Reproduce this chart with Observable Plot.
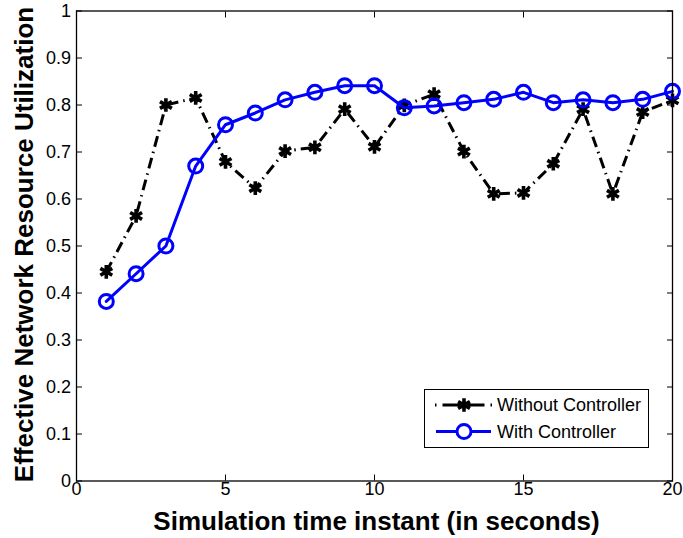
<!DOCTYPE html>
<html>
<head>
<meta charset="utf-8">
<script src="https://cdn.jsdelivr.net/npm/d3@7"></script>
<script src="https://cdn.jsdelivr.net/npm/@observablehq/plot@0.6"></script>
<style>
  html, body { margin: 0; padding: 0; background: #fff; }
  #chart { position: relative; width: 683px; height: 538px; }
</style>
</head>
<body>
<div id="chart"></div>
<script>
const time = [1, 2, 3, 4, 5, 6, 7, 8, 9, 10, 11, 12, 13, 14, 15, 16, 17, 18, 19, 20];
const withoutController = [0.445, 0.564, 0.800, 0.815, 0.679, 0.623, 0.702, 0.710, 0.791, 0.711,
                           0.799, 0.823, 0.701, 0.611, 0.613, 0.675, 0.791, 0.611, 0.785, 0.810];
const withController = [0.382, 0.441, 0.500, 0.670, 0.758, 0.783, 0.811, 0.827, 0.841, 0.841,
                        0.794, 0.798, 0.805, 0.812, 0.827, 0.805, 0.811, 0.805, 0.812, 0.829];
const seriesNames = ["Without Controller", "With Controller"];
const xTicks = [0, 5, 10, 15, 20];
const yTicks = [0, 0.1, 0.2, 0.3, 0.4, 0.5, 0.6, 0.7, 0.8, 0.9, 1];
const yTickLabels = ["0", "0.1", "0.2", "0.3", "0.4", "0.5", "0.6", "0.7", "0.8", "0.9", "1"];
const xLabel = "Simulation time instant (in seconds)";
const yLabel = "Effective Network Resource Utilization";

const rowsA = time.map((t, i) => ({t, v: withoutController[i]}));
const rowsB = time.map((t, i) => ({t, v: withController[i]}));
const dash = "11,5,1.5,5";
const font = "'Liberation Sans', Arial, Helvetica, sans-serif";

const plot = Plot.plot({
  width: 683,
  height: 538,
  marginLeft: 76,
  marginRight: 11,
  marginTop: 10.5,
  marginBottom: 57.5,
  style: {fontFamily: font, fontSize: "18px", color: "#000", background: "#fff"},
  x: {domain: [0, 20]},
  y: {domain: [0, 1]},
  marks: [
    Plot.axisX({ticks: xTicks, anchor: "bottom", tickSize: -6, tickPadding: 7.7, tickFormat: d => String(d), label: null, fontSize: 18}),
    Plot.axisX({ticks: xTicks, anchor: "top", tickSize: -6, tickFormat: () => "", label: null}),
    Plot.axisY({ticks: yTicks, anchor: "left", tickSize: -6, tickPadding: 11.5, tickFormat: (d, i) => yTickLabels[i], label: null, fontSize: 18}),
    Plot.axisY({ticks: yTicks, anchor: "right", tickSize: -6, tickFormat: () => "", label: null}),
    Plot.line(rowsA, {x: "t", y: "v", stroke: "#000", strokeWidth: 3, strokeDasharray: dash, strokeLinecap: "butt"}),
    Plot.dot(rowsA, {x: "t", y: "v", symbol: "asterisk", r: 6.5, stroke: "#000", strokeWidth: 3.6}),
    Plot.line(rowsB, {x: "t", y: "v", stroke: "#0000ff", strokeWidth: 3}),
    Plot.dot(rowsB, {x: "t", y: "v", symbol: "circle", r: 7, stroke: "#0000ff", strokeWidth: 3, fill: "none"}),
    Plot.frame({stroke: "#000", strokeWidth: 1.3}),
    Plot.text([xLabel], {frameAnchor: "bottom", dy: 40.5, dx: 2, text: d => d, fontSize: 26, fontWeight: "bold", lineAnchor: "middle", textAnchor: "middle"}),
    Plot.text([yLabel], {frameAnchor: "left", dx: -52.3, dy: -1.5, rotate: -90, text: d => d, fontSize: 26, fontWeight: "bold", lineAnchor: "middle", textAnchor: "middle"})
  ]
});
document.getElementById("chart").appendChild(plot);

// Legend (MATLAB-style boxed legend, lower right inside the axes)
const svg = d3.select(plot);
const lg = svg.append("g").attr("font-family", font).attr("font-size", 18).attr("text-anchor", "start");
lg.append("rect").attr("x", 424.5).attr("y", 389.5).attr("width", 224).attr("height", 58)
  .attr("fill", "#fff").attr("stroke", "#000").attr("stroke-width", 1);
const rowsY = [405, 431.5];
lg.append("line").attr("x1", 435).attr("x2", 492).attr("y1", rowsY[0]).attr("y2", rowsY[0])
  .attr("stroke", "#000").attr("stroke-width", 3).attr("stroke-dasharray", "1.5,6,42,6,1.5");
lg.append("path").attr("d", d3.symbol(d3.symbolAsterisk, 6.5 * 6.5 * Math.PI)())
  .attr("transform", `translate(464,${rowsY[0]})`).attr("stroke", "#000").attr("stroke-width", 3.6).attr("fill", "none");
lg.append("text").attr("x", 497).attr("y", rowsY[0]).attr("dy", "0.35em").text(seriesNames[0]);
lg.append("line").attr("x1", 436).attr("x2", 491).attr("y1", rowsY[1]).attr("y2", rowsY[1])
  .attr("stroke", "#0000ff").attr("stroke-width", 3);
lg.append("circle").attr("cx", 464).attr("cy", rowsY[1]).attr("r", 7)
  .attr("stroke", "#0000ff").attr("stroke-width", 3).attr("fill", "#fff");
lg.append("text").attr("x", 497).attr("y", rowsY[1]).attr("dy", "0.35em").text(seriesNames[1]);
</script>
</body>
</html>
